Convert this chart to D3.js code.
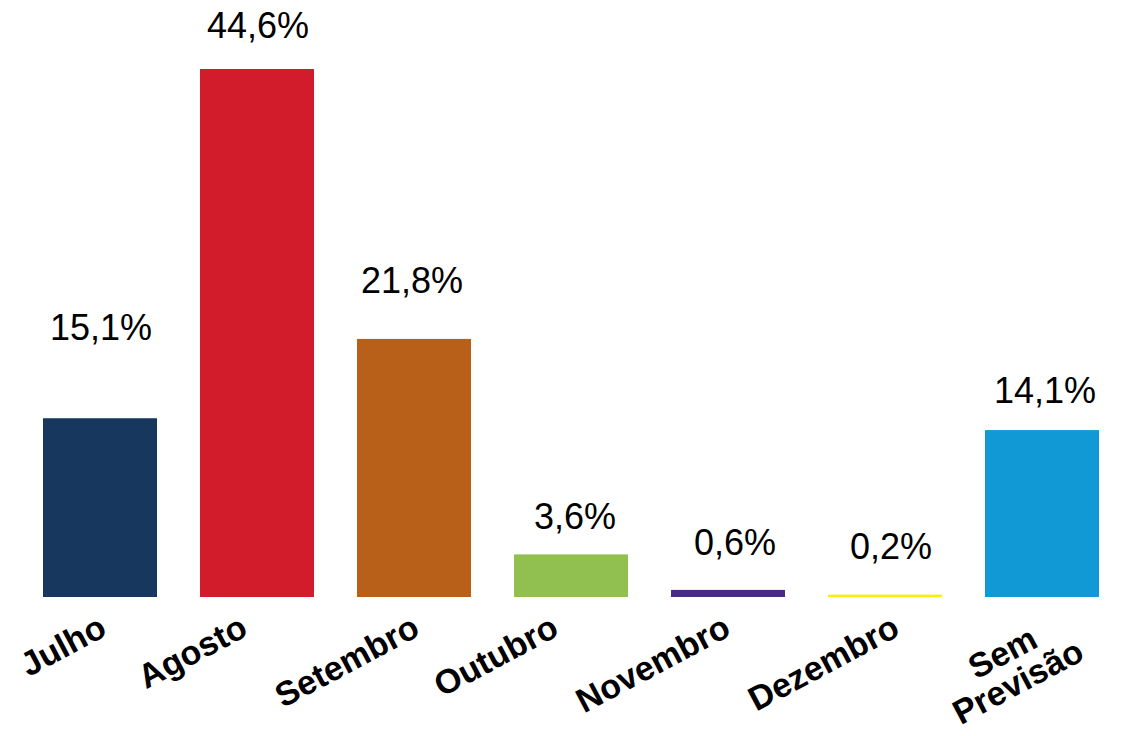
<!DOCTYPE html>
<html>
<head>
<meta charset="utf-8">
<script src="https://cdn.jsdelivr.net/npm/d3@7"></script>
<style>
  html, body { margin: 0; padding: 0; background: #ffffff; }
  svg { display: block; }
</style>
</head>
<body>
<svg id="chart" width="1122" height="736"></svg>
<script>
// ---- data ----
const categories = ["Julho", "Agosto", "Setembro", "Outubro", "Novembro", "Dezembro", "Sem Previsão"];
const values = [15.1, 44.6, 21.8, 3.6, 0.6, 0.2, 14.1];
const valueLabels = ["15,1%", "44,6%", "21,8%", "3,6%", "0,6%", "0,2%", "14,1%"];
const barColors = ["#17375E", "#D21C2B", "#B8601A", "#92C050", "#4A2A7F", "#FFED00", "#1199D6"];

// ---- layout tweaks (manual label placement, as in the original) ----
const labelGap = [78, 31, 46, 25, 35, 36, 27];     // px between value label baseline and bar top
const labelDx = [1, 1, -2, 4, 7, 6, 3];
const tickDx = [-3, -19, -4, -22, -7, 5, 17];
const tickDy = [0, 0, 0, 0, 0, 0, -5];

const W = 1122, H = 736;
const baseY = 597;
const svg = d3.select("#chart");

const x = d3.scaleBand()
  .domain(categories)
  .range([21.5, 1120.5])
  .paddingInner(0.274)
  .paddingOuter(0.137);

const y = d3.scaleLinear()
  .domain([0, 44.6])
  .range([baseY, 69]);

svg.append("g").selectAll("rect")
  .data(values)
  .join("rect")
  .attr("x", (d, i) => x(categories[i]))
  .attr("y", d => y(d))
  .attr("width", x.bandwidth())
  .attr("height", d => baseY - y(d))
  .attr("fill", (d, i) => barColors[i]);

svg.append("g").selectAll("text")
  .data(values)
  .join("text")
  .attr("x", (d, i) => x(categories[i]) + x.bandwidth() / 2 + labelDx[i])
  .attr("y", (d, i) => y(d) - labelGap[i])
  .attr("text-anchor", "middle")
  .attr("font-family", "'Liberation Sans', Arial, sans-serif")
  .attr("font-size", 36)
  .attr("fill", "#000")
  .text((d, i) => valueLabels[i]);

// category labels, rotated
const angle = -28;
const fs = 34, lh = 33;
const tg = svg.append("g")
  .attr("font-family", "'Liberation Sans', Arial, sans-serif")
  .attr("font-weight", "bold")
  .attr("font-size", fs)
  .attr("fill", "#000");

categories.forEach((c, i) => {
  const cx = x(c) + x.bandwidth() / 2 + tickDx[i];
  const words = c === "Sem Previsão" ? ["Sem", "Previsão"] : [c];
  const g = tg.append("g")
    .attr("transform", `translate(${cx},${613 + tickDy[i]}) rotate(${angle})`);
  const t = g.append("text");
  if (words.length === 1) {
    t.attr("text-anchor", "end").attr("x", 0).attr("y", fs * 0.72).text(c);
  } else {
    const widths = words.map(w => {
      const n = g.append("text").text(w);
      const wd = n.node().getComputedTextLength();
      n.remove();
      return wd;
    });
    const maxW = d3.max(widths);
    t.attr("text-anchor", "middle");
    words.forEach((w, k) => {
      t.append("tspan")
        .attr("x", -maxW / 2)
        .attr("y", fs * 0.72 + k * lh)
        .text(w);
    });
  }
});
</script>
</body>
</html>
